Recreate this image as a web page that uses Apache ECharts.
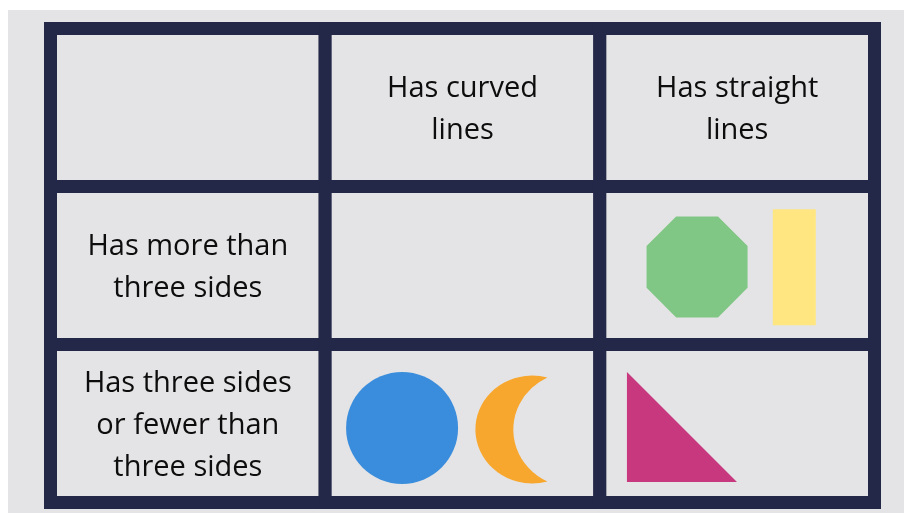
<!DOCTYPE html>
<html>
<head>
<meta charset="utf-8">
<script src="https://cdn.jsdelivr.net/npm/echarts@6/dist/echarts.min.js"></script>
<style>
  html, body { margin: 0; padding: 0; background: #ffffff; }
  #carroll { position: absolute; left: 8px; top: 10px; width: 896px; height: 503px; }
</style>
</head>
<body>
<div id="carroll"></div>
<script>
// Carroll diagram: column and row headings
const colLabels = ['', 'Has curved\nlines', 'Has straight\nlines'];
const rowLabels = ['', 'Has more than\nthree sides', 'Has three sides\nor fewer than\nthree sides'];

// Shapes sorted into the cells (x = column units, y = row units)
const shapeNames = ['circle', 'crescent', 'octagon', 'rectangle', 'triangle'];
const shapeX = [1.28, 1.678, 2.354, 2.708, 2.299];
const shapeY = [2.528, 2.538, 1.509, 1.511, 2.522];

const dark = '#232748';
const cellFill = '#e4e4e6';

// how each shape is drawn
const shapeStyle = {
  circle: { symbol: 'circle', size: 112, color: '#3a8ddc' },
  crescent: {
    symbol: 'path://M14.4 -52.04 A54 54 0 1 0 14.4 52.04 A58 58 0 0 1 14.4 -52.04 Z',
    size: [72, 108], color: '#f8a72e'
  },
  octagon: {
    symbol: 'path://M29.3 0 L70.7 0 L100 29.3 L100 70.7 L70.7 100 L29.3 100 L0 70.7 L0 29.3 Z',
    size: 101, color: '#80c684'
  },
  rectangle: { symbol: 'rect', size: [43, 116], color: '#ffe680' },
  triangle: { symbol: 'path://M0 0 L0 100 L100 100 Z', size: 110, color: '#c8387e' }
};

const cells = [];
rowLabels.forEach((rl, r) => {
  colLabels.forEach((cl, c) => {
    let text = '';
    if (r === 0) text = cl;
    else if (c === 0) text = rl;
    cells.push([c, r, text]);
  });
});

const shapeData = shapeNames.map((name, i) => {
  const s = shapeStyle[name];
  return {
    name: name,
    value: [shapeX[i], shapeY[i]],
    symbol: s.symbol,
    symbolSize: s.size,
    itemStyle: { color: s.color }
  };
});

const chart = echarts.init(document.getElementById('carroll'));

const option = {
  backgroundColor: cellFill,
  animation: false,
  grid: { left: 42.5, top: 18.5, width: 824, height: 474 },
  xAxis: { type: 'value', min: 0, max: 3, show: false },
  yAxis: { type: 'value', min: 0, max: 3, inverse: true, show: false },
  series: [
    {
      type: 'custom',
      z: 1,
      data: cells,
      renderItem: (params, api) => {
        const c = api.value(0);
        const r = api.value(1);
        const p0 = api.coord([c, r]);
        const p1 = api.coord([c + 1, r + 1]);
        return {
          type: 'group',
          children: [
            {
              type: 'rect',
              shape: { x: p0[0], y: p0[1], width: p1[0] - p0[0], height: p1[1] - p0[1] },
              style: { fill: cellFill, stroke: dark, lineWidth: 13 }
            },
            {
              type: 'text',
              style: {
                x: (p0[0] + p1[0]) / 2,
                y: (p0[1] + p1[1]) / 2 + 2,
                text: cells[params.dataIndex][2],
                fill: '#0d0d0d',
                font: '29px "Open Sans", sans-serif',
                lineHeight: 42,
                align: 'center',
                verticalAlign: 'middle'
              }
            }
          ]
        };
      }
    },
    {
      type: 'scatter',
      z: 3,
      data: shapeData,
      itemStyle: { opacity: 1 }
    }
  ]
};

chart.setOption(option);
</script>
</body>
</html>
